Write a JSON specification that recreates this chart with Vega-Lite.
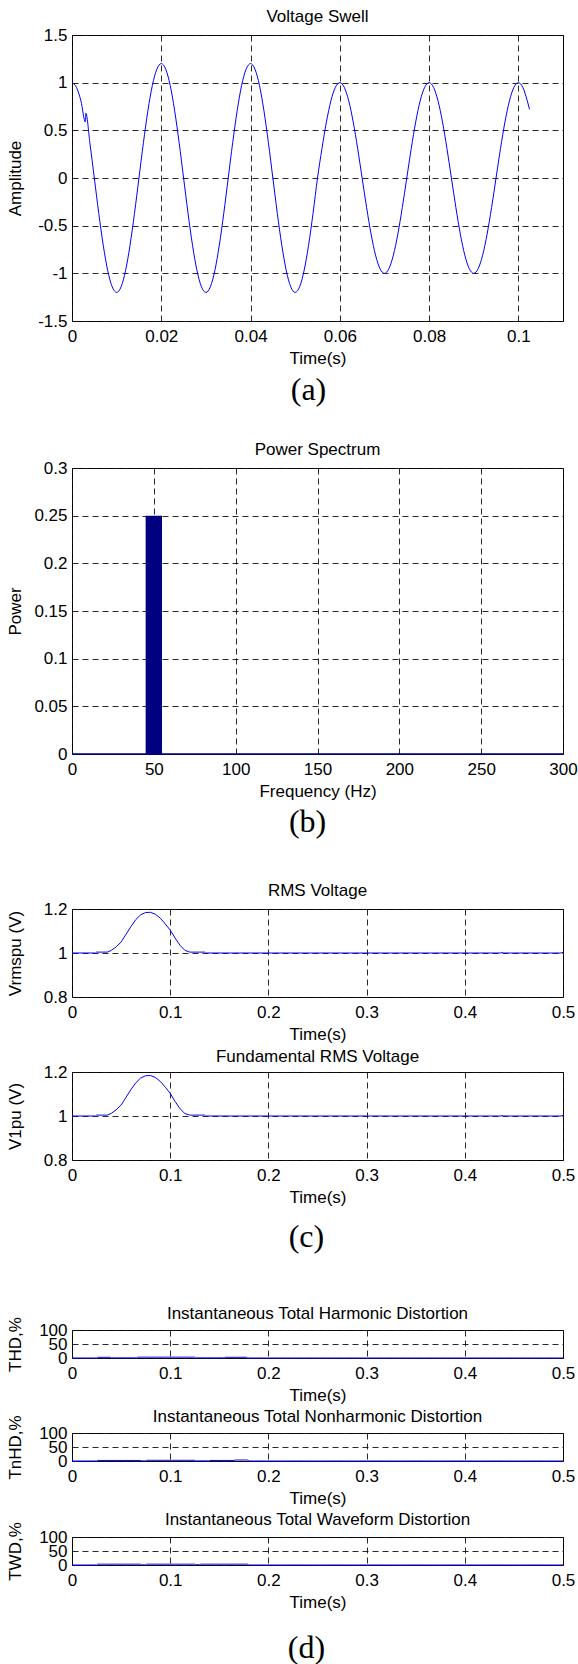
{
  "$schema": "https://vega.github.io/schema/vega-lite/v6.json",
  "padding": {"left": 5, "top": 7, "right": 0, "bottom": 0},
  "background": "white",
  "config": {
    "font": "Liberation Sans",
    "view": {"stroke": "black", "strokeWidth": 1},
    "axis": {
      "domain": false,
      "ticks": false,
      "grid": true,
      "gridDash": [6, 4],
      "gridColor": "#111111",
      "gridOpacity": 0.9,
      "gridWidth": 1,
      "labelFont": "Liberation Sans",
      "titleFont": "Liberation Sans",
      "labelFontSize": 17,
      "titleFontSize": 17,
      "titleFontWeight": "normal",
      "labelColor": "black",
      "titleColor": "black",
      "labelOverlap": false,
      "labelFlush": false,
      "labelBound": false
    },
    "axisX": {"labelPadding": 7, "titlePadding": 6},
    "axisY": {"labelPadding": 5, "titlePadding": 10, "minExtent": 38, "maxExtent": 38},
    "title": {"font": "Liberation Sans", "fontSize": 17, "fontWeight": "normal", "color": "black", "offset": 0, "frame": "group", "anchor": "middle"}
  },
  "datasets": {
    "swell": [
      {"t":0,"v":1},{"t":0.001,"v":0.951},{"t":0.002,"v":0.809},{"t":0.003,"v":0.588},{"t":0.0031,"v":0.68},
      {"t":0.004,"v":0.371},{"t":0.005,"v":0},{"t":0.006,"v":-0.371},{"t":0.007,"v":-0.705},{"t":0.008,"v":-0.971},
      {"t":0.009,"v":-1.141},{"t":0.01,"v":-1.2},{"t":0.011,"v":-1.141},{"t":0.012,"v":-0.971},{"t":0.013,"v":-0.705},
      {"t":0.014,"v":-0.371},{"t":0.015,"v":0},{"t":0.016,"v":0.371},{"t":0.017,"v":0.705},{"t":0.018,"v":0.971},
      {"t":0.019,"v":1.141},{"t":0.02,"v":1.2},{"t":0.021,"v":1.141},{"t":0.022,"v":0.971},{"t":0.023,"v":0.705},
      {"t":0.024,"v":0.371},{"t":0.025,"v":0},{"t":0.026,"v":-0.371},{"t":0.027,"v":-0.705},{"t":0.028,"v":-0.971},
      {"t":0.029,"v":-1.141},{"t":0.03,"v":-1.2},{"t":0.031,"v":-1.141},{"t":0.032,"v":-0.971},{"t":0.033,"v":-0.705},
      {"t":0.034,"v":-0.371},{"t":0.035,"v":0},{"t":0.036,"v":0.371},{"t":0.037,"v":0.705},{"t":0.038,"v":0.971},
      {"t":0.039,"v":1.141},{"t":0.04,"v":1.2},{"t":0.041,"v":1.141},{"t":0.042,"v":0.971},{"t":0.043,"v":0.705},
      {"t":0.044,"v":0.371},{"t":0.045,"v":0},{"t":0.046,"v":-0.371},{"t":0.047,"v":-0.705},{"t":0.048,"v":-0.971},
      {"t":0.049,"v":-1.141},{"t":0.05,"v":-1.2},{"t":0.051,"v":-1.141},{"t":0.052,"v":-0.971},{"t":0.053,"v":-0.705},
      {"t":0.054,"v":-0.371},{"t":0.055,"v":0},{"t":0.056,"v":0.309},{"t":0.057,"v":0.588},{"t":0.058,"v":0.809},
      {"t":0.059,"v":0.951},{"t":0.06,"v":1},{"t":0.061,"v":0.951},{"t":0.062,"v":0.809},{"t":0.063,"v":0.588},
      {"t":0.064,"v":0.309},{"t":0.065,"v":0},{"t":0.066,"v":-0.309},{"t":0.067,"v":-0.588},{"t":0.068,"v":-0.809},
      {"t":0.069,"v":-0.951},{"t":0.07,"v":-1},{"t":0.071,"v":-0.951},{"t":0.072,"v":-0.809},{"t":0.073,"v":-0.588},
      {"t":0.074,"v":-0.309},{"t":0.075,"v":0},{"t":0.076,"v":0.309},{"t":0.077,"v":0.588},{"t":0.078,"v":0.809},
      {"t":0.079,"v":0.951},{"t":0.08,"v":1},{"t":0.081,"v":0.951},{"t":0.082,"v":0.809},{"t":0.083,"v":0.588},
      {"t":0.084,"v":0.309},{"t":0.085,"v":0},{"t":0.086,"v":-0.309},{"t":0.087,"v":-0.588},{"t":0.088,"v":-0.809},
      {"t":0.089,"v":-0.951},{"t":0.09,"v":-1},{"t":0.091,"v":-0.951},{"t":0.092,"v":-0.809},{"t":0.093,"v":-0.588},
      {"t":0.094,"v":-0.309},{"t":0.095,"v":0},{"t":0.096,"v":0.309},{"t":0.097,"v":0.588},{"t":0.098,"v":0.809},
      {"t":0.099,"v":0.951},{"t":0.1,"v":1},{"t":0.101,"v":0.951},{"t":0.102,"v":0.809},{"t":0.1025,"v":0.72}
    ],
    "spectrum": [
      {"lo":45,"hi":55,"power":0.25}
    ],
    "spectrumBase": [
      {"f":0,"power":0},{"f":300,"power":0}
    ],
    "rms": [
      {"t":0,"v":1},{"t":0.024,"v":1},{"t":0.025,"v":1.004},{"t":0.036,"v":1.004},{"t":0.04,"v":1.012},
      {"t":0.045,"v":1.028},{"t":0.05,"v":1.05},{"t":0.055,"v":1.085},{"t":0.06,"v":1.12},{"t":0.065,"v":1.152},
      {"t":0.07,"v":1.174},{"t":0.075,"v":1.184},{"t":0.08,"v":1.185},{"t":0.085,"v":1.176},{"t":0.09,"v":1.158},
      {"t":0.095,"v":1.132},{"t":0.1,"v":1.104},{"t":0.105,"v":1.068},{"t":0.11,"v":1.035},{"t":0.115,"v":1.012},
      {"t":0.12,"v":1.004},{"t":0.135,"v":1.004},{"t":0.136,"v":1},{"t":0.3,"v":1},{"t":0.437,"v":1},
      {"t":0.438,"v":1.004},{"t":0.439,"v":1},{"t":0.498,"v":1},{"t":0.5,"v":1.003}
    ],
    "fund": [
      {"t":0,"v":1},{"t":0.024,"v":1},{"t":0.025,"v":1.004},{"t":0.036,"v":1.004},{"t":0.04,"v":1.012},
      {"t":0.045,"v":1.028},{"t":0.05,"v":1.05},{"t":0.055,"v":1.085},{"t":0.06,"v":1.12},{"t":0.065,"v":1.151},
      {"t":0.07,"v":1.173},{"t":0.075,"v":1.183},{"t":0.08,"v":1.184},{"t":0.085,"v":1.175},{"t":0.09,"v":1.157},
      {"t":0.095,"v":1.131},{"t":0.1,"v":1.103},{"t":0.105,"v":1.066},{"t":0.11,"v":1.033},{"t":0.115,"v":1.011},
      {"t":0.12,"v":1.004},{"t":0.135,"v":1.004},{"t":0.136,"v":1},{"t":0.3,"v":1},{"t":0.437,"v":1},
      {"t":0.438,"v":1.004},{"t":0.439,"v":1},{"t":0.498,"v":1},{"t":0.5,"v":1.003}
    ],
    "thd": [
      {"t":0,"v":0},{"t":0.025,"v":0},{"t":0.026,"v":2.5},{"t":0.039,"v":2.5},{"t":0.04,"v":0.5},{"t":0.066,"v":0.5},
      {"t":0.067,"v":3},{"t":0.125,"v":3},{"t":0.126,"v":0.5},{"t":0.155,"v":0.5},{"t":0.156,"v":2.5},{"t":0.178,"v":2.5},
      {"t":0.179,"v":0},{"t":0.5,"v":0}
    ],
    "tnhd": [
      {"t":0,"v":0},{"t":0.025,"v":0},{"t":0.026,"v":2},{"t":0.07,"v":2},{"t":0.071,"v":0.5},{"t":0.075,"v":0.5},
      {"t":0.076,"v":2.5},{"t":0.125,"v":2.5},{"t":0.126,"v":0.5},{"t":0.139,"v":0.5},{"t":0.14,"v":2},{"t":0.165,"v":2},
      {"t":0.166,"v":3.5},{"t":0.179,"v":3.5},{"t":0.18,"v":0},{"t":0.5,"v":0}
    ],
    "twd": [
      {"t":0,"v":0},{"t":0.025,"v":0},{"t":0.026,"v":3},{"t":0.07,"v":3},{"t":0.071,"v":0.5},{"t":0.075,"v":0.5},
      {"t":0.076,"v":3},{"t":0.125,"v":3},{"t":0.126,"v":1},{"t":0.13,"v":1},{"t":0.131,"v":3},{"t":0.179,"v":3},
      {"t":0.18,"v":0},{"t":0.5,"v":0}
    ]
  },
  "spacing": 51,
  "vconcat": [
    {
      "spacing": 43,
      "vconcat": [
        {
          "spacing": 34,
          "vconcat": [
            {
              "title": {"text": "(a)", "orient": "bottom", "frame": "bounds", "anchor": "middle", "font": "Liberation Serif", "fontSize": 32, "offset": 8, "dx": 24},
              "vconcat": [
                {
                  "width": 491, "height": 286,
                  "title": {"text": "Voltage Swell", "offset": 0},
                  "data": {"name": "swell"},
                  "mark": {"type": "line", "color": "#0000ff", "strokeWidth": 1, "interpolate": "monotone"},
                  "encoding": {
                    "x": {"field": "t", "type": "quantitative", "scale": {"domain": [0, 0.11], "nice": false, "zero": false},
                          "axis": {"title": "Time(s)", "values": [0, 0.02, 0.04, 0.06, 0.08, 0.1], "labelExpr": "'' + datum.value"}},
                    "y": {"field": "v", "type": "quantitative", "scale": {"domain": [-1.5, 1.5], "nice": false},
                          "axis": {"title": "Amplitude", "values": [-1.5, -1, -0.5, 0, 0.5, 1, 1.5], "labelExpr": "'' + datum.value"}}
                  }
                }
              ]
            },
            {
              "title": {"text": "(b)", "orient": "bottom", "frame": "bounds", "anchor": "middle", "font": "Liberation Serif", "fontSize": 32, "offset": 7, "dx": 16},
              "vconcat": [
                {
                  "width": 491, "height": 286,
                  "title": {"text": "Power Spectrum", "offset": 0},
                  "layer": [
                    {
                      "data": {"name": "spectrum"},
                      "mark": {"type": "rect", "color": "#000080"},
                      "encoding": {
                        "x": {"field": "lo", "type": "quantitative", "scale": {"domain": [0, 300], "nice": false},
                              "axis": {"title": "Frequency (Hz)", "values": [0, 50, 100, 150, 200, 250, 300], "labelExpr": "'' + datum.value"}},
                        "x2": {"field": "hi"},
                        "y": {"field": "power", "type": "quantitative", "scale": {"domain": [0, 0.3], "nice": false},
                              "axis": {"title": "Power", "values": [0, 0.05, 0.1, 0.15, 0.2, 0.25, 0.3], "labelExpr": "'' + datum.value"}},
                        "y2": {"datum": 0}
                      }
                    },
                    {
                      "data": {"name": "spectrumBase"},
                      "mark": {"type": "line", "color": "#000080", "strokeWidth": 1.5},
                      "encoding": {
                        "x": {"field": "f", "type": "quantitative"},
                        "y": {"field": "power", "type": "quantitative"}
                      }
                    }
                  ]
                }
              ]
            }
          ]
        },
        {
          "spacing": 4,
          "title": {"text": "(c)", "orient": "bottom", "frame": "bounds", "anchor": "middle", "font": "Liberation Serif", "fontSize": 32, "offset": 16, "dx": 16},
          "vconcat": [
            {
              "width": 491, "height": 88,
              "title": {"text": "RMS Voltage", "offset": 0},
              "data": {"name": "rms"},
              "mark": {"type": "line", "color": "#0000ff", "strokeWidth": 1},
              "encoding": {
                "x": {"field": "t", "type": "quantitative", "scale": {"domain": [0, 0.5], "nice": false},
                      "axis": {"title": "Time(s)", "values": [0, 0.1, 0.2, 0.3, 0.4, 0.5], "labelExpr": "'' + datum.value"}},
                "y": {"field": "v", "type": "quantitative", "scale": {"domain": [0.8, 1.2], "nice": false, "zero": false},
                      "axis": {"title": "Vrmspu (V)", "values": [0.8, 1, 1.2], "labelExpr": "'' + datum.value"}}
              }
            },
            {
              "width": 491, "height": 88,
              "title": {"text": "Fundamental RMS Voltage", "offset": -3},
              "data": {"name": "fund"},
              "mark": {"type": "line", "color": "#0000ff", "strokeWidth": 1},
              "encoding": {
                "x": {"field": "t", "type": "quantitative", "scale": {"domain": [0, 0.5], "nice": false},
                      "axis": {"title": "Time(s)", "values": [0, 0.1, 0.2, 0.3, 0.4, 0.5], "labelExpr": "'' + datum.value"}},
                "y": {"field": "v", "type": "quantitative", "scale": {"domain": [0.8, 1.2], "nice": false, "zero": false},
                      "axis": {"title": "V1pu (V)", "values": [0.8, 1, 1.2], "labelExpr": "'' + datum.value"}}
              }
            }
          ]
        }
      ]
    },
    {
      "spacing": 3,
      "title": {"text": "(d)", "orient": "bottom", "frame": "bounds", "anchor": "middle", "font": "Liberation Serif", "fontSize": 32, "offset": 22, "dx": 16},
      "vconcat": [
        {
          "width": 491, "height": 28,
          "title": {"text": "Instantaneous Total Harmonic Distortion", "offset": -6},
          "data": {"name": "thd"},
          "mark": {"type": "line", "color": "#0000ff", "strokeWidth": 1},
          "encoding": {
            "x": {"field": "t", "type": "quantitative", "scale": {"domain": [0, 0.5], "nice": false},
                  "axis": {"title": "Time(s)", "values": [0, 0.1, 0.2, 0.3, 0.4, 0.5], "labelExpr": "'' + datum.value"}},
            "y": {"field": "v", "type": "quantitative", "scale": {"domain": [0, 100], "nice": false},
                  "axis": {"title": "THD,%", "values": [0, 50, 100], "labelExpr": "'' + datum.value"}}
          }
        },
        {
          "width": 491, "height": 28,
          "title": {"text": "Instantaneous Total Nonharmonic Distortion", "offset": -11},
          "data": {"name": "tnhd"},
          "mark": {"type": "line", "color": "#0000ff", "strokeWidth": 1},
          "encoding": {
            "x": {"field": "t", "type": "quantitative", "scale": {"domain": [0, 0.5], "nice": false},
                  "axis": {"title": "Time(s)", "values": [0, 0.1, 0.2, 0.3, 0.4, 0.5], "labelExpr": "'' + datum.value"}},
            "y": {"field": "v", "type": "quantitative", "scale": {"domain": [0, 100], "nice": false},
                  "axis": {"title": "TnHD,%", "values": [0, 50, 100], "labelExpr": "'' + datum.value"}}
          }
        },
        {
          "width": 491, "height": 28,
          "title": {"text": "Instantaneous Total Waveform Distortion", "offset": -7},
          "data": {"name": "twd"},
          "mark": {"type": "line", "color": "#0000ff", "strokeWidth": 1},
          "encoding": {
            "x": {"field": "t", "type": "quantitative", "scale": {"domain": [0, 0.5], "nice": false},
                  "axis": {"title": "Time(s)", "values": [0, 0.1, 0.2, 0.3, 0.4, 0.5], "labelExpr": "'' + datum.value"}},
            "y": {"field": "v", "type": "quantitative", "scale": {"domain": [0, 100], "nice": false},
                  "axis": {"title": "TWD,%", "values": [0, 50, 100], "labelExpr": "'' + datum.value"}}
          }
        }
      ]
    }
  ]
}
